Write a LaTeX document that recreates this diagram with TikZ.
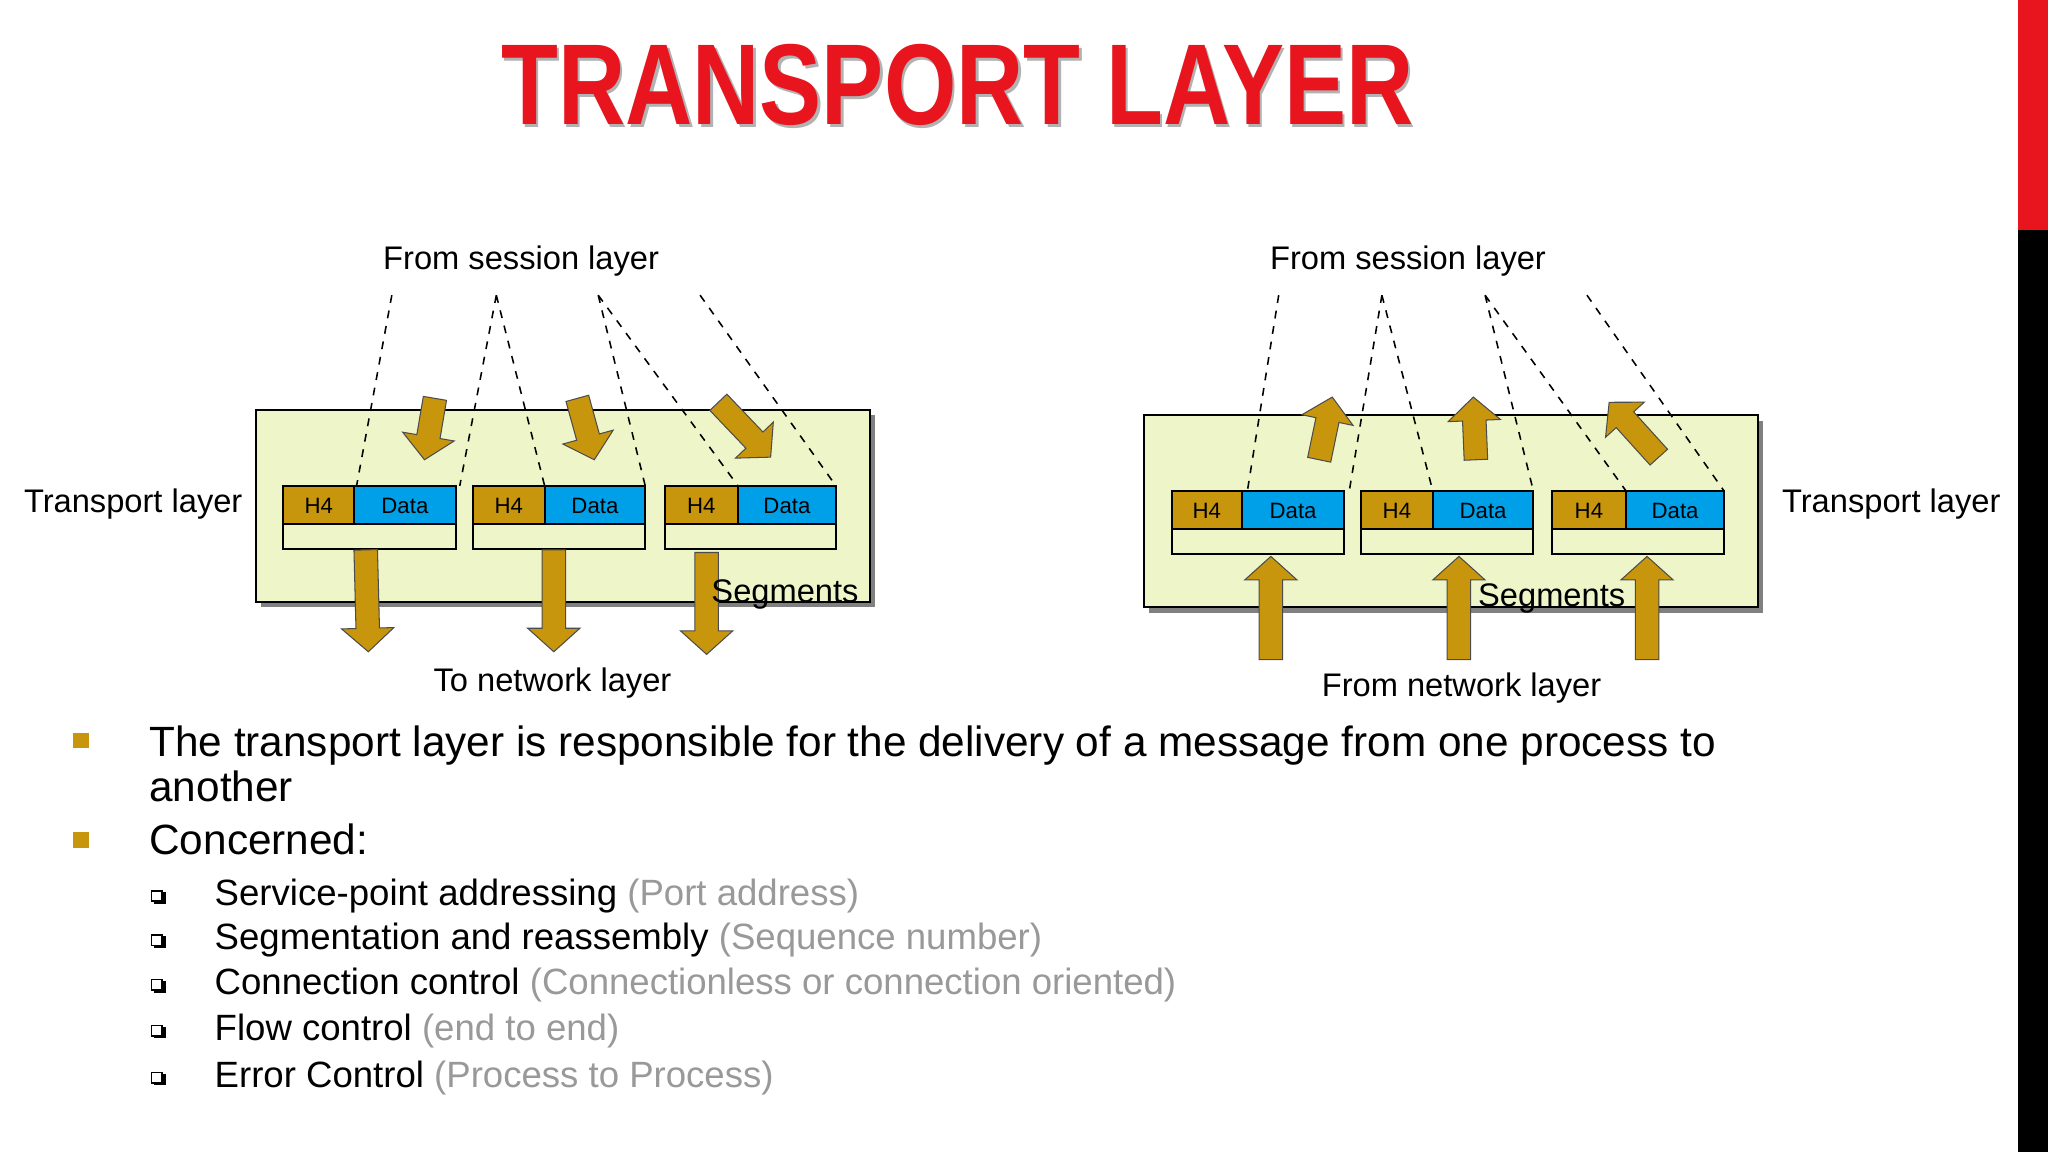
\documentclass[tikz,border=0pt]{standalone}
\usepackage{fontspec}
\setmainfont{Liberation Sans}
\usetikzlibrary{calc,shadows}
\definecolor{gold}{HTML}{C8960C}
\definecolor{dblue}{HTML}{00A0E8}
\definecolor{boxfill}{HTML}{EEF5C8}
\definecolor{tred}{HTML}{E8141E}
\tikzset{
  lbl/.style={font=\fontsize{12.5}{14}\selectfont, inner sep=0},
  big/.style={fill=gold, draw=black!70, line width=0.4pt, line join=miter},
  dl/.style={dashed, line width=0.6pt},
  tbox/.style={draw=black, line width=0.8pt, fill=boxfill, drop shadow={shadow xshift=2pt, shadow yshift=-2pt, fill=black!50, opacity=1}},
}
\newcommand{\barrow}[3]{%
  \coordinate (#1s) at (#2); \coordinate (#1e) at (#3);
  \coordinate (#1h) at ($(#1e)!9pt!(#1s)$);
  \draw[big] ($(#1s)!4.5pt!90:(#1e)$) -- ($(#1h)!4.5pt!90:(#1e)$) -- ($(#1h)!10pt!90:(#1e)$) -- (#1e)
    -- ($(#1h)!10pt!-90:(#1e)$) -- ($(#1h)!4.5pt!-90:(#1e)$) -- ($(#1s)!4.5pt!-90:(#1e)$) -- cycle;}
\newcommand{\seg}[5]{% name, x0, xsplit, x1, ytop
  \fill[gold] (#2,#5) rectangle (#3,#5+29);
  \fill[dblue] (#3,#5) rectangle (#4,#5+29);
  \draw[line width=0.8pt] (#2,#5) rectangle (#4,#5+48);
  \draw[line width=0.8pt] (#2,#5+29) -- (#4,#5+29) (#3,#5) -- (#3,#5+29);
  \node[font=\fontsize{8.5}{10}\selectfont] (#1h) at ({(#2+#3)/2},#5+15) {H4};
  \node[font=\fontsize{8.5}{10}\selectfont] (#1d) at ({(#3+#4)/2},#5+15) {Data};
}
\begin{document}
\begin{tikzpicture}[x=0.5pt,y=-0.5pt]
\useasboundingbox (0,0) rectangle (1568,882);
\fill[white] (0,0) rectangle (1568,882);
\fill[tred] (1545,0) rectangle (1568,176);
\fill[black] (1545,176) rectangle (1568,882);
% title
\node[font=\fontsize{44}{48}\selectfont\bfseries, text=black!30, inner sep=0] at (735,67) {\scalebox{0.81}[1]{TRANSPORT LAYER}};
\node[font=\fontsize{44}{48}\selectfont\bfseries, text=tred, inner sep=0] (title) at (733,65) {\scalebox{0.81}[1]{TRANSPORT LAYER}};
% left diagram
\draw[tbox] (196,314) rectangle (666,461);
\barrow{la1}{333,305}{325,352}
\barrow{la2}{442,305}{455,352}
\barrow{la3}{550,308}{590,350}
\seg{ls1}{217}{271}{349}{372}
\seg{ls2}{362}{417}{494}{372}
\seg{ls3}{509}{565}{640}{372}
\draw[dl] (300,226) -- (273,372);
\draw[dl] (380,226) -- (352,372) (380,226) -- (417,372);
\draw[dl] (458,226) -- (494,372) (458,226) -- (565,372);
\draw[dl] (536,226) -- (640,372);
\barrow{lb1}{280,421}{282,499}
\barrow{lb2}{424,421}{424,499}
\barrow{lb3}{541,423}{541,501}
\node[lbl] (lfs) at (399,200) {From session layer};
\node[lbl] (ltl) at (102,386) {Transport layer};
\node[lbl] (lsg) at (601,455) {Segments};
\node[lbl] (lnl) at (423,523) {To network layer};
% right diagram
\draw[tbox] (876,318) rectangle (1346,465);
\barrow{ra1}{1010,352}{1020,304}
\barrow{ra2}{1130,352}{1128,304}
\barrow{ra3}{1270,350}{1232,308}
\seg{rs1}{897}{951}{1029}{376}
\seg{rs2}{1042}{1097}{1174}{376}
\seg{rs3}{1188}{1245}{1320}{376}
\draw[dl] (979,226) -- (955,376);
\draw[dl] (1058,226) -- (1033,376) (1058,226) -- (1097,376);
\draw[dl] (1137,226) -- (1174,376) (1137,226) -- (1245,376);
\draw[dl] (1215,226) -- (1320,376);
\barrow{rb1}{973,505}{973,426}
\barrow{rb2}{1117,505}{1117,426}
\barrow{rb3}{1261,505}{1261,426}
\node[lbl] (rfs) at (1078,200) {From session layer};
\node[lbl] (rtl) at (1448,386) {Transport layer};
\node[lbl] (rsg) at (1188,458) {Segments};
\node[lbl] (rnl) at (1119,527) {From network layer};
% bullets
\fill[gold] (56,561) rectangle (68,573);
\fill[gold] (56,637) rectangle (68,649);
\node[font=\fontsize{16.2}{17}\selectfont, anchor=west, inner sep=0] (b1) at (114,571) {The transport layer is responsible for the delivery of a message from one process to};
\node[font=\fontsize{16.2}{17}\selectfont, anchor=west, inner sep=0] (b1b) at (114,602) {another};
\node[font=\fontsize{16.2}{17}\selectfont, anchor=west, inner sep=0] (b2) at (114,643) {Concerned:};
\foreach \y/\a/\b in {686/Service-point addressing/(Port address), 720/Segmentation and reassembly/(Sequence number), 754/Connection control/(Connectionless or connection oriented), 789/Flow control/(end to end), 825/Error Control/(Process to Process)}{
  \draw[line width=0.6pt, fill=white] (116,\y-4) rectangle (124,\y+4);
  \draw[line width=1pt] (118,\y+5) -- (126,\y+5) -- (126,\y-3);
  \node[font=\fontsize{14}{15}\selectfont, anchor=west, inner sep=0] at (164,\y) {\a\ \textcolor{black!40}{\b}};
}
\end{tikzpicture}
\end{document}
